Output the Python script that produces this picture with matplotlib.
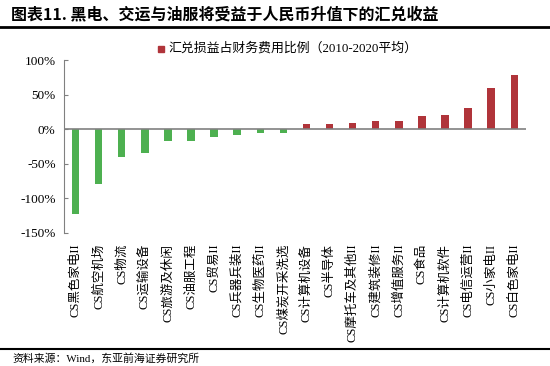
import matplotlib
matplotlib.use("Agg")
import matplotlib.pyplot as plt
from matplotlib.patches import Rectangle
from matplotlib.lines import Line2D

plt.rcParams['font.family'] = ['Liberation Serif', 'Noto Sans CJK SC', 'DejaVu Sans']

categories = ["CS黑色家电II", "CS航空机场", "CS物流", "CS运输设备", "CS旅游及休闲",
              "CS油服工程", "CS贸易II", "CS兵器兵装II", "CS生物医药II", "CS煤炭开采洗选",
              "CS计算机设备", "CS半导体", "CS摩托车及其他II", "CS建筑装修II", "CS增值服务II",
              "CS食品", "CS计算机软件", "CS电信运营II", "CS小家电II", "CS白色家电II"]
values = [-123, -80, -40, -35, -17, -17, -11, -8, -6, -5,
          7, 7, 9, 11, 11, 19, 20, 30, 59, 79]
yticks = [100, 50, 0, -50, -100, -150]
legend_label = "汇兑损益占财务费用比例（2010-2020平均）"
title = "图表11. 黑电、交运与油服将受益于人民币升值下的汇兑收益"
source = "资料来源：Wind，东亚前海证券研究所"

green = "#4DB050"
red = "#B0343A"

fig = plt.figure(figsize=(5.5, 3.66), dpi=100)
ax = fig.add_axes([0.1164, 0.3642, 0.8396, 0.4718])

colors = [green if v < 0 else red for v in values]
x = list(range(len(categories)))
ax.bar(x, values, width=0.32, color=colors, zorder=2)
ax.set_xlim(-0.5, len(categories) - 0.5)
ax.set_ylim(-150, 100)
ax.set_yticks(yticks)
ax.set_yticklabels([f"{t}%" for t in yticks], fontsize=9.5)
ax.tick_params(axis='y', direction='in', length=3, color='#808080', pad=6)
ax.set_xticks(x)
ax.set_xticklabels(categories, rotation=90, fontsize=9, va='top', ha='center')
ax.tick_params(axis='x', length=0, pad=8)
for s in ['top', 'right', 'bottom']:
    ax.spines[s].set_visible(False)
ax.spines['left'].set_color('#808080')
ax.axhline(0, color='#808080', lw=1.2, zorder=3)

# legend
fig.patches.append(Rectangle((158 / 550, 1 - 52 / 366), 6 / 550, 6 / 366,
                             transform=fig.transFigure, color=red, figure=fig))
fig.text(168 / 550, 1 - 48 / 366, legend_label, fontsize=9.3, va='center', ha='left')

# title and separators
fig.text(11 / 550, 1 - 14 / 366, title, fontsize=11.5, fontweight='bold', va='center', ha='left',
         family=['Noto Sans CJK SC', 'DejaVu Sans'])
fig.add_artist(Line2D([0, 1], [1 - 27 / 366, 1 - 27 / 366], transform=fig.transFigure,
                      color='black', lw=2))
fig.add_artist(Line2D([0, 1], [1 - 349 / 366, 1 - 349 / 366], transform=fig.transFigure,
                      color='black', lw=1.5))
fig.text(12 / 550, 1 - 358 / 366, source, fontsize=7.8, va='center', ha='left')

fig.savefig("out.png", dpi=100)
